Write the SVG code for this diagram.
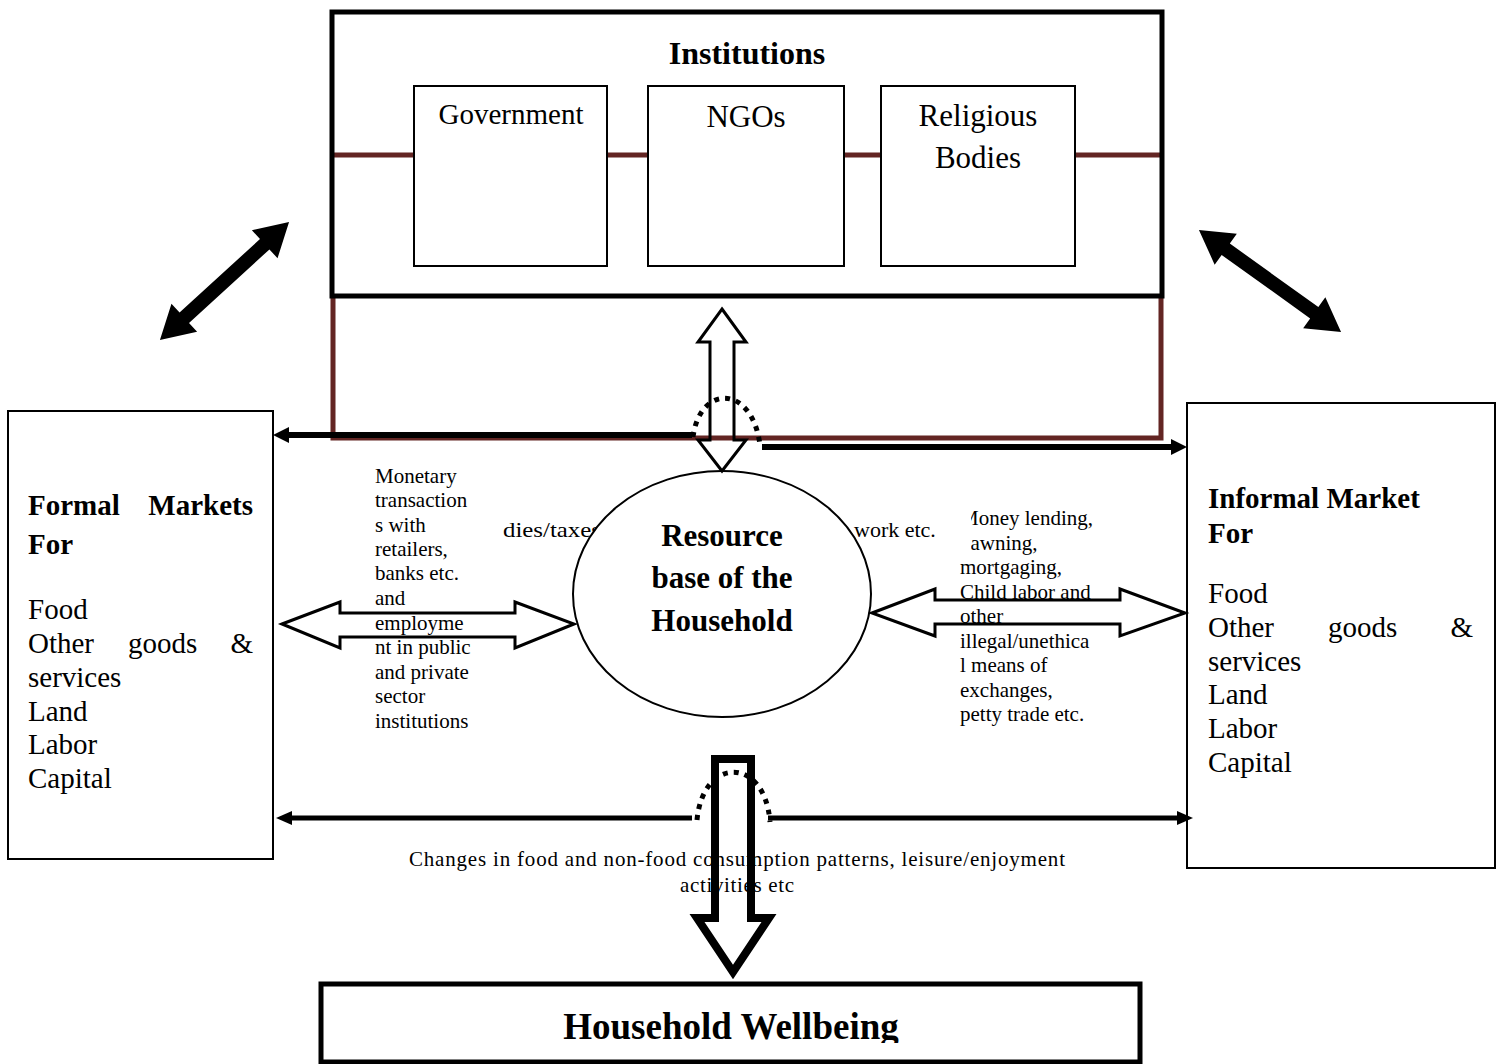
<svg xmlns="http://www.w3.org/2000/svg" width="1500" height="1064" viewBox="0 0 1500 1064">
<style>
text { font-family: "Liberation Serif", "Times New Roman", serif; fill: #000; }
.b { font-weight: bold; }
.box { fill: #fff; stroke: #000; stroke-width: 2; }
.maroon { fill: none; stroke: #632523; stroke-width: 5; }
.thick { fill: none; stroke: #000; stroke-width: 6; }
.thin5 { fill: none; stroke: #000; stroke-width: 5; }
.hollow { fill: none; stroke: #000; stroke-width: 3; stroke-linejoin: miter; }
.dots { fill: none; stroke: #000; stroke-width: 5; stroke-dasharray: 5 6; }
.s21 { font-size: 21px; }
.s29 { font-size: 29px; }
</style>
<defs>
<marker id="ah" viewBox="0 0 16 16" refX="0" refY="8" markerWidth="16" markerHeight="16" markerUnits="userSpaceOnUse" orient="auto">
<path d="M0,0 L16,8 L0,16 Z" fill="#000"/>
</marker>
<marker id="ah2" viewBox="0 0 16 14" refX="0" refY="7" markerWidth="16" markerHeight="14" markerUnits="userSpaceOnUse" orient="auto">
<path d="M0,0 L16,7 L0,14 Z" fill="#000"/>
</marker>
<clipPath id="clipR"><rect x="971" y="500" width="200" height="60"/></clipPath>
<clipPath id="clipHW"><rect x="320" y="985" width="820" height="58"/></clipPath>
<polygon id="dbl" points="-87.5,0 -54.5,-19 -54.5,-7 54.5,-7 54.5,-19 87.5,0 54.5,19 54.5,7 -54.5,7 -54.5,19"/>
</defs>

<g id="institutions">
<path class="maroon" d="M332,155 H1161"/>
<path class="maroon" d="M333,296 V438 H1161 V296"/>
<rect x="332" y="12" width="830" height="284" fill="none" stroke="#000" stroke-width="5"/>
<text class="b" x="747" y="64" font-size="32" text-anchor="middle">Institutions</text>
<g id="government">
<rect class="box" x="414" y="86" width="193" height="180"/>
<text x="511" y="124" font-size="29" text-anchor="middle">Government</text>
</g>
<g id="ngos">
<rect class="box" x="648" y="86" width="196" height="180"/>
<text x="746" y="127" font-size="31" text-anchor="middle">NGOs</text>
</g>
<g id="religious-bodies">
<rect class="box" x="881" y="86" width="194" height="180"/>
<text x="978" y="126" font-size="31" text-anchor="middle">Religious</text>
<text x="978" y="168" font-size="31" text-anchor="middle">Bodies</text>
</g>
</g>

<g id="formal-markets">
<rect class="box" x="8" y="411" width="265" height="448"/>
<text class="b s29" x="28" y="515">Formal</text>
<text class="b s29" x="253" y="515" text-anchor="end">Markets</text>
<text class="b s29" x="28" y="554">For</text>
<text class="s29" x="28" y="619">Food</text>
<text class="s29" x="28" y="653">Other</text>
<text class="s29" x="128" y="653">goods</text>
<text class="s29" x="253" y="653" text-anchor="end">&amp;</text>
<text class="s29" x="28" y="687">services</text>
<text class="s29" x="28" y="721">Land</text>
<text class="s29" x="28" y="754">Labor</text>
<text class="s29" x="28" y="788">Capital</text>
</g>

<g id="informal-markets">
<rect class="box" x="1187" y="403" width="308" height="465"/>
<text class="b s29" x="1208" y="508">Informal Market</text>
<text class="b s29" x="1208" y="543">For</text>
<text class="s29" x="1208" y="603">Food</text>
<text class="s29" x="1208" y="637">Other</text>
<text class="s29" x="1328" y="637">goods</text>
<text class="s29" x="1473" y="637" text-anchor="end">&amp;</text>
<text class="s29" x="1208" y="671">services</text>
<text class="s29" x="1208" y="704">Land</text>
<text class="s29" x="1208" y="738">Labor</text>
<text class="s29" x="1208" y="772">Capital</text>
</g>

<g id="labels">
<text class="s21" x="375" y="483">Monetary</text>
<text class="s21" x="375" y="507">transaction</text>
<text class="s21" x="375" y="532">s with</text>
<text class="s21" x="375" y="556">retailers,</text>
<text class="s21" x="375" y="580">banks etc.</text>
<text class="s21" x="375" y="605">and</text>
<text class="s21" x="375" y="630">employme</text>
<text class="s21" x="375" y="654">nt in public</text>
<text class="s21" x="375" y="679">and private</text>
<text class="s21" x="375" y="703">sector</text>
<text class="s21" x="375" y="728">institutions</text>
<text class="s21" x="503" y="537" textLength="98" lengthAdjust="spacingAndGlyphs">dies/taxes</text>
<text x="854" y="537" font-size="22">work etc.</text>
<g clip-path="url(#clipR)">
<text class="s21" x="960" y="525">Money lending,</text>
<text class="s21" x="960" y="550">pawning,</text>
</g>
<text class="s21" x="960" y="574">mortgaging,</text>
<text class="s21" x="960" y="599">Child labor and</text>
<text class="s21" x="960" y="623">other</text>
<text class="s21" x="960" y="648">illegal/unethica</text>
<text class="s21" x="960" y="672">l means of</text>
<text class="s21" x="960" y="697">exchanges,</text>
<text class="s21" x="960" y="721">petty trade etc.</text>
<text x="409" y="866" font-size="21" textLength="656" lengthAdjust="spacing">Changes in food and non-food consumption patterns, leisure/enjoyment</text>
<text x="680" y="892" font-size="21" textLength="114" lengthAdjust="spacing">activities etc</text>
</g>

<g id="resource-base">
<ellipse cx="722" cy="594" rx="149" ry="123" fill="#fff" stroke="#000" stroke-width="2"/>
<text class="b" x="722" y="546" font-size="31" text-anchor="middle">Resource</text>
<text class="b" x="722" y="588" font-size="31" text-anchor="middle">base of the</text>
<text class="b" x="722" y="631" font-size="31" text-anchor="middle">Household</text>
</g>

<g id="household-wellbeing">
<rect x="321" y="984" width="819" height="78" fill="#fff" stroke="#000" stroke-width="5"/>
<text class="b" x="731" y="1039" font-size="37" text-anchor="middle" clip-path="url(#clipHW)">Household Wellbeing</text>
</g>

<g id="connectors">
<use href="#dbl" transform="translate(224.5,281) rotate(-42.45)" fill="#000"/>
<use href="#dbl" transform="translate(1270,281) rotate(35.7)" fill="#000"/>
<path class="thick" d="M692,435 H289" marker-end="url(#ah)"/>
<path class="thick" d="M762,447 H1171" marker-end="url(#ah)"/>
<path class="hollow" d="M722,309 L746,342 L734,342 L734,440 L746,440 L722,471 L698,440 L710,440 L710,342 L698,342 Z"/>
<path class="dots" d="M693,437 C700,384 752,384 760,445"/>
<path class="hollow" d="M282,624 L340,602 L340,613 L515,613 L515,602 L574,624 L515,648 L515,637 L340,637 L340,648 Z"/>
<path class="hollow" d="M872,613 L935,589 L935,600 L1120,600 L1120,589 L1185,613 L1120,636 L1120,624 L935,624 L935,636 Z"/>
<path class="thin5" d="M692,818 H292" marker-end="url(#ah2)"/>
<path class="thin5" d="M768,818 H1177" marker-end="url(#ah2)"/>
<path class="dots" d="M697,820 C703,756 765,756 770,822"/>
<path d="M715,759 L751,759 L751,918 L769,918 L733,972 L697,918 L715,918 Z" fill="none" stroke="#000" stroke-width="8" stroke-linejoin="miter"/>
</g>
</svg>
